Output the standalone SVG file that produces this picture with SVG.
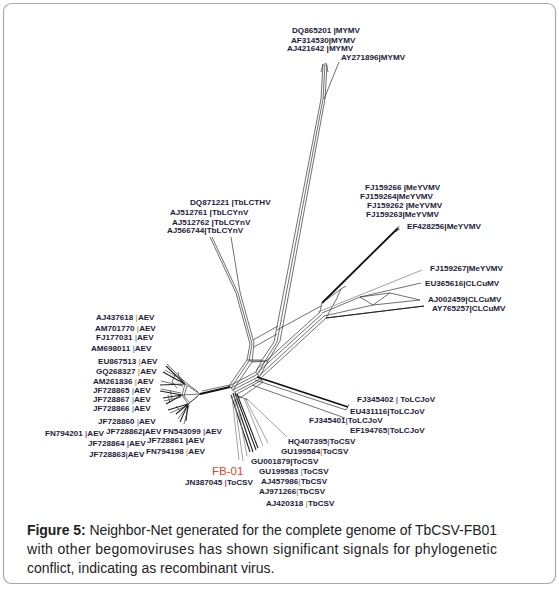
<svg xmlns="http://www.w3.org/2000/svg" width="559" height="589" viewBox="0 0 559 589">
<style>
.lb{font-family:"Liberation Sans",Arial,sans-serif;font-size:8.1px;font-weight:bold;fill:#1b1b3a}
.o{fill:#e09a50}.p{fill:#9a4aa0}.b{fill:#6aa0c8}.k{fill:#111}.g{fill:#999}
.e{fill:none;stroke:#333;stroke-width:0.7}
.t{fill:none;stroke:#111;stroke-width:1.8}
.m{fill:none;stroke:#222;stroke-width:1.1}
.gr{fill:none;stroke:#8a8a8a;stroke-width:0.8}
.cap{font-family:"Liberation Sans",Arial,sans-serif;font-size:14px;fill:#222}
</style>
<rect x="3.5" y="3.5" width="552" height="580" rx="8" fill="#fff" stroke="#aaa" stroke-width="1.2"/>
<g id="connectors">
<path class="e" d="M274,342 L321,99 M277,342 L323,99 M280,341 L325,99"/>
<path class="e" d="M321,99 L323,64 M323,99 L325,63 M325,99 L327,65 M323,64 L321,72 M326,63 L328,72"/>
<path class="e" d="M324,99 L339,62"/>
<path class="e" d="M210,237 L236,293 L250,344 M212,237 L238,293 M231,237 L240,292 L254,343 M238,293 L252,344"/>
<path class="e" d="M250,344 L247,360 L229,386 M252,344 L249,361 L231,388 M254,343 L252,362 L233,390"/>
<path class="e" d="M274,342 L262,360 L256,372 M277,342 L265,361 L258,374 M280,341 L268,361 L260,376"/>
<path class="e" d="M253,340 L278,326 M254,347 L277,334 M247,360 L262,360 M249,361 L265,361 M252,362 L268,361"/>
<path class="e" d="M229,386 L256,372 M231,388 L258,374 M233,390 L260,376 M235,392 L262,378 M237,394 L262,380 M229,386 L240,398 M256,372 L263,382 M240,398 L263,382 M236,395 L248,400"/>
<path class="e" d="M256,370 L320,312 M258,372 L322,314 M260,375 L324,316 M262,377 L326,318 M277,330 L321,306"/>
<path class="t" d="M322,303 L398,228"/>
<path class="e" d="M320,312 L322,303 L341,289 L336,300 M341,289 L346,286 M326,318 L336,300 M396,232 L399,226 M394,232 L400,229"/>
<path class="gr" d="M318,312 L422,270"/>
<path class="e" d="M322,313 L360,297 L421,283 M324,316 L373,305 L420,300 M326,318 L424,306 M360,297 L373,305 L390,293 L360,297 M390,293 L420,300"/>
<path class="m" d="M326,318 L424,306"/>
<!-- AEV cluster -->
<path class="t" d="M230,387 L200,394"/>
<path class="e" d="M230,385 L202,391 M200,394 L185,384 M200,394 L182,395 M200,394 L188,404 M185,384 L182,395 L188,404 M187,386 L184,396 L190,403 M198,392 L184,381 M198,396 L186,406"/>
<path class="m" d="M185,384 L166,366 M185,384 L163,372 M185,384 L170,376 M185,384 L160,385 M182,395 L160,391 M182,395 L163,398 M182,395 L166,404 M188,404 L168,410 M188,404 L176,414 M188,404 L180,422 M188,404 L186,421"/>
<path class="e" d="M184,381 L167,364 M184,381 L165,370 M183,386 L161,381 M181,393 L161,389 M181,397 L164,401 M186,406 L170,413 M187,406 L178,419 M189,405 L184,424"/>
<path class="e" d="M175,375 L172,382 L177,388 M170,390 L172,399 M176,406 L180,411 M178,372 L180,380 M168,395 L170,403"/>
<path class="t" d="M257,377 L348,407"/>
<path class="e" d="M255,380 L346,410 M252,385 L345,418 M346,410 L349,404"/>
<path class="gr" d="M246,398 L287,437 M244,398 L263,446 M245,398 L268,443"/>
<path class="m" d="M233,393 L253,452 M235,393 L256,450 M231,395 L250,452 M237,394 L258,448"/>
<path class="gr" d="M232,396 L239,460 M234,396 L243,461 M236,396 L247,456"/>
</g>
<g id="n-DQ865201"><text class="lb" x="292" y="33">DQ865201 <tspan class="k">|</tspan>MYMV</text></g>
<g id="n-AF314530"><text class="lb" x="291" y="42.5">AF314530<tspan class="k">|</tspan>MYMV</text></g>
<g id="n-AJ421642"><text class="lb" x="287" y="51">AJ421642 <tspan class="k">|</tspan>MYMV</text></g>
<g id="n-AY271896"><text class="lb" x="341" y="60">AY271896<tspan class="k">|</tspan>MYMV</text></g>
<g id="n-DQ871221"><text class="lb" x="190" y="205">DQ871221 <tspan class="k">|</tspan>TbLCTHV</text></g>
<g id="n-AJ512761"><text class="lb" x="170" y="215">AJ512761 <tspan class="k">|</tspan>TbLCYnV</text></g>
<g id="n-AJ512762"><text class="lb" x="172" y="224.5">AJ512762 <tspan class="k">|</tspan>TbLCYnV</text></g>
<g id="n-AJ566744"><text class="lb" x="167" y="233">AJ566744<tspan class="k">|</tspan>TbLCYnV</text></g>
<g id="n-FJ159266"><text class="lb" x="365" y="189.5">FJ159266 <tspan class="k">|</tspan>MeYVMV</text></g>
<g id="n-FJ159264"><text class="lb" x="360" y="198.5">FJ159264<tspan class="k">|</tspan>MeYVMV</text></g>
<g id="n-FJ159262"><text class="lb" x="367" y="207.5">FJ159262 <tspan class="k">|</tspan>MeYVMV</text></g>
<g id="n-FJ159263"><text class="lb" x="366" y="216.5">FJ159263<tspan class="k">|</tspan>MeYVMV</text></g>
<g id="n-EF428256"><text class="lb" x="407" y="229">EF428256<tspan class="k">|</tspan>MeYVMV</text></g>
<g id="n-FJ159267"><text class="lb" x="430" y="271">FJ159267<tspan class="k">|</tspan>MeYVMV</text></g>
<g id="n-EU365616"><text class="lb" x="425" y="286">EU365616<tspan class="k">|</tspan>CLCuMV</text></g>
<g id="n-AJ002459"><text class="lb" x="428" y="302">AJ002459<tspan class="k">|</tspan>CLCuMV</text></g>
<g id="n-AY765257"><text class="lb" x="432" y="311">AY765257<tspan class="k">|</tspan>CLCuMV</text></g>
<g id="n-AJ437618"><text class="lb" x="96" y="320">AJ437618 <tspan class="o">|</tspan>AEV</text></g>
<g id="n-AM701770"><text class="lb" x="95" y="331">AM701770 <tspan class="o">|</tspan>AEV</text></g>
<g id="n-FJ177031"><text class="lb" x="96" y="340">FJ177031 <tspan class="b">|</tspan>AEV</text></g>
<g id="n-AM698011"><text class="lb" x="91" y="351">AM698011 <tspan class="b">|</tspan>AEV</text></g>
<g id="n-EU867513"><text class="lb" x="98" y="364">EU867513 <tspan class="o">|</tspan>AEV</text></g>
<g id="n-GQ268327"><text class="lb" x="96" y="374">GQ268327 <tspan class="o">|</tspan>AEV</text></g>
<g id="n-AM261836"><text class="lb" x="93" y="384">AM261836 <tspan class="o">|</tspan>AEV</text></g>
<g id="n-JF728865"><text class="lb" x="93" y="393">JF728865 <tspan class="b">|</tspan>AEV</text></g>
<g id="n-JF728867"><text class="lb" x="93" y="402">JF728867 <tspan class="b">|</tspan>AEV</text></g>
<g id="n-JF728866"><text class="lb" x="93" y="411">JF728866 <tspan class="b">|</tspan>AEV</text></g>
<g id="n-JF728860"><text class="lb" x="98" y="424">JF728860 <tspan class="b">|</tspan>AEV</text></g>
<g id="n-FN794201"><text class="lb" x="45" y="436">FN794201 <tspan class="p">|</tspan>AEV</text></g>
<g id="n-JF728862"><text class="lb" x="106" y="434">JF728862<tspan class="k">|</tspan>AEV</text></g>
<g id="n-FN543099"><text class="lb" x="163" y="434">FN543099 <tspan class="p">|</tspan>AEV</text></g>
<g id="n-JF728864"><text class="lb" x="88" y="446">JF728864 <tspan class="p">|</tspan>AEV</text></g>
<g id="n-JF728861"><text class="lb" x="147" y="443">JF728861 <tspan class="k">|</tspan>AEV</text></g>
<g id="n-JF728863"><text class="lb" x="89" y="457">JF728863<tspan class="p">|</tspan>AEV</text></g>
<g id="n-FN794198"><text class="lb" x="146" y="454">FN794198 <tspan class="o">|</tspan>AEV</text></g>
<g id="n-FJ345402"><text class="lb" x="357" y="402">FJ345402 <tspan class="p">|</tspan> ToLCJoV</text></g>
<g id="n-EU431116"><text class="lb" x="350" y="414">EU431116<tspan class="k">|</tspan>ToLCJoV</text></g>
<g id="n-FJ345401"><text class="lb" x="309" y="423">FJ345401<tspan class="p">|</tspan>ToLCJoV</text></g>
<g id="n-EF194765"><text class="lb" x="350" y="433">EF194765<tspan class="p">|</tspan>ToLCJoV</text></g>
<g id="n-HQ407395"><text class="lb" x="288" y="444">HQ407395<tspan class="p">|</tspan>ToCSV</text></g>
<g id="n-GU199584"><text class="lb" x="281" y="454">GU199584<tspan class="o">|</tspan>ToCSV</text></g>
<g id="n-GU001879"><text class="lb" x="251" y="464">GU001879<tspan class="k">|</tspan>ToCSV</text></g>
<g id="n-GU199583"><text class="lb" x="259" y="474">GU199583 <tspan class="g">|</tspan>ToCSV</text></g>
<g id="n-FB01"><text x="212" y="475" font-family="Liberation Sans, Arial, sans-serif" font-size="11.5" fill="#e8432a">FB-01</text></g>
<g id="n-JN387045"><text class="lb" x="185" y="485">JN387045 <tspan class="p">|</tspan>ToCSV</text></g>
<g id="n-AJ457986"><text class="lb" x="261" y="484">AJ457986<tspan class="g">|</tspan>TbCSV</text></g>
<g id="n-AJ971266"><text class="lb" x="259" y="494">AJ971266<tspan class="g">|</tspan>TbCSV</text></g>
<g id="n-AJ420318"><text class="lb" x="266" y="506">AJ420318 <tspan class="o">|</tspan>TbCSV</text></g>
<g id="caption">
<text class="cap" x="27" y="535" textLength="470" lengthAdjust="spacing"><tspan font-weight="bold">Figure 5:</tspan> Neighbor-Net generated for the complete genome of TbCSV-FB01</text>
<text class="cap" x="27" y="554" textLength="470" lengthAdjust="spacing">with other begomoviruses has shown significant signals for phylogenetic</text>
<text class="cap" x="27" y="573">conflict, indicating as recombinant virus.</text>
</g>
</svg>
